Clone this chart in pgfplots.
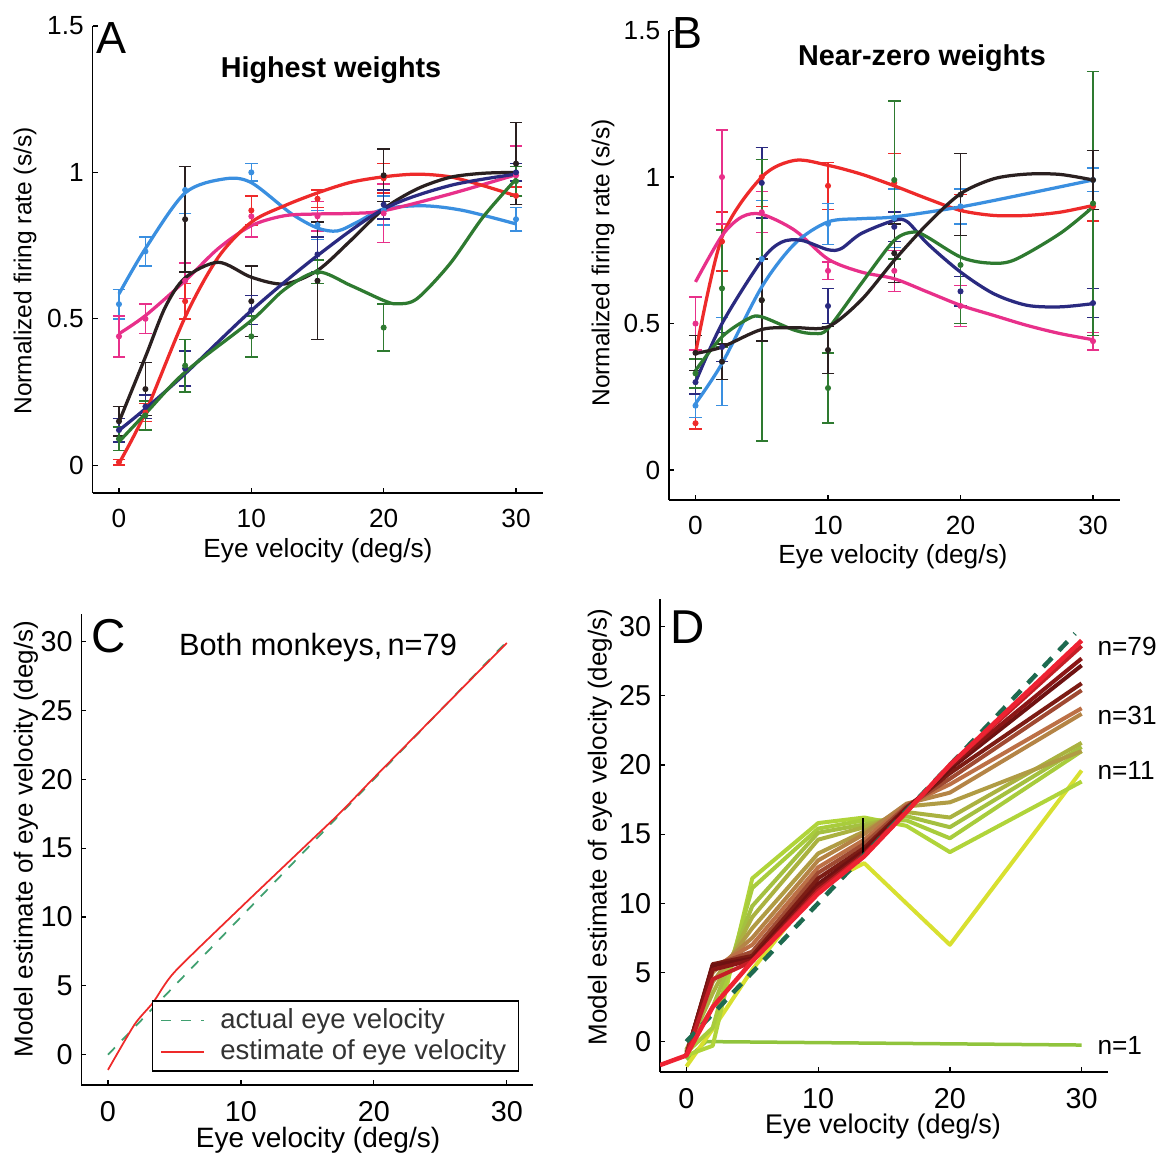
\documentclass[border=0pt]{standalone}
\usepackage{fontspec}
\setmainfont{Liberation Sans}
\usepackage{pgfplots}
\pgfplotsset{compat=1.18}

\definecolor{cblue}{HTML}{3A8FE0}
\definecolor{cpink}{HTML}{E8308A}
\definecolor{cred}{HTML}{EE2A2A}
\definecolor{cblack}{HTML}{2A2020}
\definecolor{cnavy}{HTML}{2A2A80}
\definecolor{cgreen}{HTML}{2E7A30}
\definecolor{cdash}{HTML}{1E6A50}
\definecolor{cgr}{HTML}{40A070}

\newcommand\fs[1]{\fontsize{#1}{#1}\selectfont}
\def\u{0.4pt}

\pgfplotsset{
  panel/.style={scale only axis, anchor=south west,
    axis x line*=bottom, axis y line*=left,
    tick align=inside, major tick length=2pt,
    tick style={black, line width=0.5pt},
    axis line style={black, line width=0.6pt},
    /pgf/number format/assume math mode=true,
    xmin=-2, xmax=32, xtick={0,10,20,30},
    xticklabel style={yshift=-3pt}},
  pts/.style={only marks, mark=*, mark size=1pt,
    error bars/.cd, y dir=both, y explicit,
    error bar style={line width=0.6pt},
    error mark=-,
    error mark options={rotate=90, mark size=2.5pt, line width=0.6pt}},
  crv/.style={smooth, no marks, line width=1.3pt},
  dl/.style={no marks, line width=1.6pt, line join=round},
}

\begin{document}
\begin{tikzpicture}
\path (0,0) rectangle ({1162*\u},{-1160*\u});

% ---------- A
\begin{axis}[panel, at={(37pt,-197.2pt)}, width=180pt, height=186.8pt,
  ymin=-0.095, ymax=1.5, ytick={0,0.5,1,1.5},
  tick label style={font=\fs{10.5}}]
\addplot[cblue, pts] table[x=x, y=y, y error=e] {
x y e
0 0.55 0.05
2 0.73 0.05
5 0.94 0.08
10 1.00 0.03
15 0.82 0.05
20 0.87 0.05
30 0.84 0.04
};
\addplot[cpink, pts] table[x=x, y=y, y error=e] {
x y e
0 0.44 0.07
2 0.50 0.05
5 0.63 0.06
10 0.85 0.07
15 0.85 0.05
20 0.86 0.10
30 0.99 0.10
};
\addplot[cred, pts] table[x=x, y=y, y error=e] {
x y e
0 0.01 0.01
2 0.18 0.03
5 0.56 0.06
10 0.87 0.05
15 0.91 0.03
20 0.98 0.05
30 0.92 0.03
};
\addplot[cblack, pts] table[x=x, y=y, y error=e] {
x y e
0 0.15 0.05
2 0.26 0.09
5 0.84 0.18
10 0.56 0.12
15 0.63 0.20
20 0.99 0.09
30 1.03 0.14
};
\addplot[cnavy, pts] table[x=x, y=y, y error=e] {
x y e
0 0.12 0.04
2 0.20 0.04
5 0.33 0.06
10 0.53 0.05
15 0.72 0.06
20 0.89 0.05
30 1.00 0.03
};
\addplot[cgreen, pts] table[x=x, y=y, y error=e] {
x y e
0 0.09 0.04
2 0.17 0.05
5 0.34 0.09
10 0.44 0.07
15 0.66 0.04
20 0.47 0.08
30 0.97 0.05
};
\addplot[cblue, crv] coordinates {(0,0.585)(2,0.74)(5,0.93)(8,0.978)(10,0.965)(13,0.86)(15,0.81)(16.5,0.80)(18,0.83)(20,0.875)(23,0.886)(26,0.87)(30,0.824)};
\addplot[cpink, crv] coordinates {(0,0.449)(2,0.511)(5,0.63)(7.5,0.74)(10,0.818)(12.5,0.852)(15,0.858)(17.5,0.86)(20,0.869)(25,0.926)(30,0.992)};
\addplot[cred, crv] coordinates {(0,0.006)(2,0.18)(5,0.506)(7.5,0.71)(10,0.83)(12.5,0.886)(15,0.93)(17.5,0.966)(20,0.985)(22.5,0.994)(25,0.985)(27.5,0.955)(30,0.92)};
\addplot[cblack, crv] coordinates {(0,0.148)(2,0.37)(3.5,0.54)(5,0.64)(7.5,0.693)(10,0.642)(12.5,0.619)(15,0.665)(17.5,0.767)(20,0.875)(22.5,0.943)(25,0.983)(27.5,0.997)(30,1.0)};
\addplot[cnavy, crv] coordinates {(0,0.119)(2,0.193)(5,0.3125)(10,0.528)(15,0.716)(20,0.875)(25,0.955)(30,0.994)};
\addplot[cgreen, crv] coordinates {(0,0.08)(2,0.176)(5,0.318)(10,0.494)(12.5,0.60)(15,0.66)(17.5,0.614)(20,0.5625)(21,0.551)(22.5,0.568)(25,0.6875)(27.5,0.847)(30,0.977)};
\end{axis}

% ---------- B
\begin{axis}[panel, at={(267.6pt,-200pt)}, width=180.2pt, height=187.8pt,
  ymin=-0.102, ymax=1.5, ytick={0,0.5,1,1.5},
  tick label style={font=\fs{10.5}}]
\addplot[cred, pts] table[x=x, y=y, y error=e] {
x y e
0 0.16 0.02
2 0.78 0.10
5 1.00 0.10
10 0.97 0.08
15 0.98 0.10
20 0.89 0.05
30 0.90 0.05
};
\addplot[cpink, pts] table[x=x, y=y, y error=e] {
x y e
0 0.50 0.09
2 1.00 0.16
5 0.88 0.07
10 0.68 0.03
15 0.68 0.07
20 0.56 0.07
30 0.44 0.03
};
\addplot[cblue, pts] table[x=x, y=y, y error=e] {
x y e
0 0.22 0.04
2 0.37 0.15
5 0.72 0.20
10 0.84 0.07
15 0.86 0.10
20 0.90 0.06
30 0.99 0.04
};
\addplot[cnavy, pts] table[x=x, y=y, y error=e] {
x y e
0 0.30 0.04
2 0.42 0.05
5 0.98 0.12
10 0.56 0.06
15 0.83 0.05
20 0.61 0.05
30 0.57 0.05
};
\addplot[cgreen, pts] table[x=x, y=y, y error=e] {
x y e
0 0.33 0.05
2 0.62 0.20
5 0.58 0.48
10 0.28 0.12
15 0.99 0.27
20 0.70 0.20
30 0.91 0.45
};
\addplot[cblack, pts] table[x=x, y=y, y error=e] {
x y e
0 0.40 0.06
2 0.37 0.06
5 0.58 0.14
10 0.41 0.08
15 0.74 0.10
20 0.94 0.14
30 0.99 0.10
};
\addplot[cred, crv] coordinates {(0,0.398)(2,0.795)(5,1.0)(7.5,1.057)(10,1.04)(12.5,1.01)(15,0.97)(17.5,0.926)(20,0.886)(22.5,0.869)(25,0.869)(27.5,0.88)(30,0.903)};
\addplot[cpink, crv] coordinates {(0,0.642)(2,0.80)(3.5,0.864)(5,0.873)(7.5,0.818)(10,0.72)(12.5,0.676)(15,0.653)(17.5,0.608)(20,0.5625)(22.5,0.528)(25,0.494)(27.5,0.466)(30,0.445)};
\addplot[cblue, crv] coordinates {(0,0.227)(2,0.364)(5,0.625)(7.5,0.773)(10,0.847)(12.5,0.858)(15,0.864)(20,0.898)(25,0.943)(30,0.99)};
\addplot[cnavy, crv] coordinates {(0,0.30)(2,0.50)(5,0.716)(6.5,0.778)(8,0.784)(10,0.752)(11,0.756)(12.5,0.807)(15,0.852)(16,0.847)(17.5,0.773)(20,0.676)(22.5,0.602)(25,0.5625)(27.5,0.557)(30,0.568)};
\addplot[cgreen, crv] coordinates {(0,0.34)(2,0.455)(4,0.517)(5,0.523)(7.5,0.477)(9,0.466)(10,0.483)(12.5,0.636)(15,0.784)(16.5,0.8125)(17.5,0.795)(20,0.727)(22,0.707)(24,0.716)(27.5,0.807)(30,0.898)};
\addplot[cblack, crv] coordinates {(0,0.398)(2,0.42)(5,0.48)(7.5,0.486)(10,0.489)(12.5,0.58)(15,0.716)(17.5,0.84)(20,0.943)(22.5,0.994)(25,1.01)(27.5,1.009)(30,0.99)};
\end{axis}

% ---------- C
\begin{axis}[panel, at={(32.56pt,-434pt)}, width=180.8pt, height=188.4pt,
  ymin=-2.2, ymax=32, ytick={0,5,...,30},
  tick label style={font=\fs{11.5}},
  legend style={at={(0.156,0.028)}, anchor=south west, draw=black,
    line width=0.6pt, font=\fs{11}, text=black!80,
    inner xsep=3pt, inner ysep=1pt, row sep=-1pt},
  legend cell align=left,
  legend image code/.code={\draw[#1] (0.1cm,0cm) -- (0.7cm,0cm); \path (0.85cm,0cm);}]
\addplot[cgr, line width=0.7pt, dash pattern=on 4pt off 4pt] coordinates {(0,0)(30,30)};
\addlegendentry{actual eye velocity}
\addplot[cred, line width=0.7pt, smooth, tension=0.4] coordinates {(0,-1.1)(2,2.2)(3.4,3.8)(5,6.0)(10,10.7)(15,15.3)(17.5,17.6)(20,20.1)(25,25)(30,29.9)};
\addlegendentry{estimate of eye velocity}
\end{axis}

% ---------- D
\begin{axis}[panel, at={(264pt,-428.8pt)}, width=179.2pt, height=189.2pt,
  ymin=-2.2, ymax=32, ytick={0,5,...,30},
  tick label style={font=\fs{11.5}}]
\addplot[color={rgb,255:red,144;green,196;blue,60}, dl, line width=1.4pt] coordinates {(0,-1.3)(1.5,0.0)(30,-0.25)};
\addplot[color={rgb,255:red,216;green,224;blue,48}, dl] coordinates {(0,-1.8)(2,0.9)(5,5.2)(10,11.2)(13.5,12.9)(20,7.0)(30,19.6)};
\addplot[color={rgb,255:red,176;green,212;blue,58}, dl] coordinates {(0,-1.0)(2,-0.3)(5,11.8)(10,15.8)(13.5,16.2)(16.7,15.6)(20,13.7)(30,18.8)};
\addplot[color={rgb,255:red,168;green,204;blue,60}, dl] coordinates {(0,-0.8)(2,1.0)(5,11.1)(10,15.4)(13.5,16.0)(16.7,16.0)(20,14.7)(30,21.0)};
\addplot[color={rgb,255:red,164;green,192;blue,64}, dl] coordinates {(0,-0.6)(2,2.5)(5,9.8)(10,15.1)(13.5,15.7)(16.7,16.3)(20,15.5)(30,21.3)};
\addplot[color={rgb,255:red,170;green,178;blue,64}, dl] coordinates {(0,-0.6)(2,3.5)(5,9.0)(10,14.6)(13.5,15.5)(16.7,16.6)(20,16.2)(30,21.6)};
\addplot[color={rgb,255:red,176;green,156;blue,68}, dl] coordinates {(0,-0.7)(2,4.3)(5,8.2)(10,13.6)(13.5,15.2)(16.7,17.0)(20,17.3)(30,21.0)};
\addplot[color={rgb,255:red,180;green,132;blue,70}, dl] coordinates {(0,-0.8)(2,5.0)(5,7.5)(10,13.1)(13.5,15.0)(16.7,17.2)(20,18.0)(30,23.7)};
\addplot[color={rgb,255:red,188;green,112;blue,70}, dl] coordinates {(0,-0.9)(2,5.3)(5,7.0)(10,12.6)(13.5,14.6)(16.7,17.1)(20,18.6)(30,24.1)};
\addplot[color={rgb,255:red,160;green,74;blue,50}, dl] coordinates {(0,-1.0)(2,5.5)(5,6.5)(10,12.2)(13.5,14.3)(16.7,17.0)(20,19.0)(30,25.4)};
\addplot[color={rgb,255:red,124;green,28;blue,20}, dl] coordinates {(0,-1.0)(2,5.6)(5,6.2)(10,11.8)(13.5,14.0)(16.7,16.9)(20,19.4)(30,25.9)};
\addplot[color={rgb,255:red,110;green,18;blue,18}, dl] coordinates {(0,-1.0)(2,5.5)(5,6.0)(10,11.4)(13.5,13.8)(16.7,16.8)(20,19.7)(30,27.2)};
\addplot[color={rgb,255:red,138;green,22;blue,22}, dl] coordinates {(0,-1.0)(2,5.2)(5,5.9)(10,11.1)(13.5,13.6)(16.7,16.7)(20,19.9)(30,27.7)};
\addplot[color={rgb,255:red,196;green,30;blue,38}, dl] coordinates {(0,-1.0)(2,4.5)(5,5.8)(10,10.9)(13.5,13.5)(16.7,16.6)(20,20.0)(30,28.6)};
\addplot[black, line width=0.5pt] coordinates {(13.4,13.2)(13.4,16.2)};
\addplot[cdash, line width=1.8pt, dash pattern=on 5pt off 4pt] coordinates {(0,0)(29.5,29.5)};
\addplot[color={rgb,255:red,238;green,34;blue,50}, dl, line width=1.8pt] coordinates {(-2,-1.7)(0,-1.0)(2,2.5)(5,5.8)(10,10.7)(13.5,13.4)(16.7,16.6)(20,20.0)(30,29.0)};
\end{axis}

% ---------- text
\tikzset{every node/.append style={inner sep=0pt}}
\node[font=\fs{10.5}] at ({318*\u},{-551*\u}) {Eye velocity (deg/s)};
\node[font=\fs{10.5}] at ({893*\u},{-557*\u}) {Eye velocity (deg/s)};
\node[font=\fs{11.2}] at ({318*\u},{-1140*\u}) {Eye velocity (deg/s)};
\node[font=\fs{10.8}] at ({883*\u},{-1127*\u}) {Eye velocity (deg/s)};
\node[font=\fs{9.8}, rotate=90] at ({25*\u},{-271*\u}) {Normalized firing rate (s/s)};
\node[font=\fs{9.8}, rotate=90] at ({603*\u},{-263*\u}) {Normalized firing rate (s/s)};
\node[font=\fs{10.4}, rotate=90] at ({26*\u},{-839*\u}) {Model estimate of eye velocity (deg/s)};
\node[font=\fs{10.4}, rotate=90] at ({600*\u},{-827*\u}) {Model estimate of eye velocity (deg/s)};
\node[font=\fs{11.5}\bfseries] at ({331*\u},{-70*\u}) {Highest weights};
\node[font=\fs{11.5}\bfseries] at ({922*\u},{-58*\u}) {Near-zero weights};
\node[font=\fs{12.3}] at ({318*\u},{-648*\u}) {Both monkeys,\,n=79};
\node[font=\fs{18}] at ({112*\u},{-38*\u}) {A};
\node[font=\fs{18}] at ({688*\u},{-33*\u}) {B};
\node[font=\fs{19}] at ({109*\u},{-636*\u}) {C};
\node[font=\fs{19}] at ({688*\u},{-627*\u}) {D};
\node[font=\fs{10.5}, anchor=west] at ({1097*\u},{-646*\u}) {n=79};
\node[font=\fs{10.5}, anchor=west] at ({1097*\u},{-715*\u}) {n=31};
\node[font=\fs{10.5}, anchor=west] at ({1097*\u},{-770*\u}) {n=11};
\node[font=\fs{10.5}, anchor=west] at ({1097*\u},{-1045*\u}) {n=1};
\end{tikzpicture}
\end{document}
